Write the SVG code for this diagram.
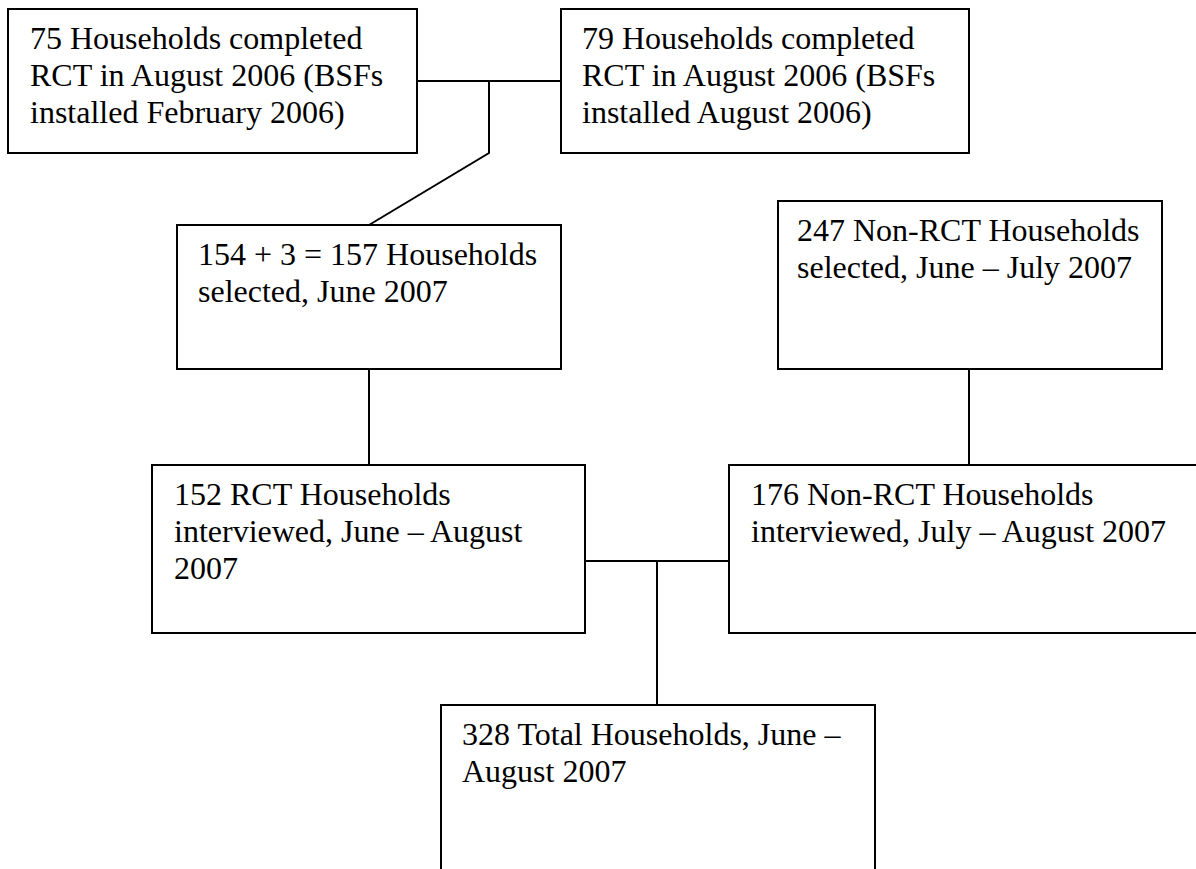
<svg xmlns="http://www.w3.org/2000/svg" width="1196" height="869" viewBox="0 0 1196 869">
<style>
.box{fill:#fff;stroke:#000;stroke-width:2}
.t{font-family:"Liberation Serif","Times New Roman",serif;font-size:32px;fill:#000}
.c{fill:none;stroke:#000;stroke-width:2}
</style>
<rect width="1196" height="869" fill="#fff"/>
<g id="connectors">
<polyline class="c" points="417,81 561,81"/>
<polyline class="c" points="489,81 489,153 369,225"/>
<line class="c" x1="369" y1="369" x2="369" y2="465"/>
<line class="c" x1="969" y1="369" x2="969" y2="465"/>
<line class="c" x1="585" y1="561" x2="729" y2="561"/>
<line class="c" x1="657" y1="561" x2="657" y2="705"/>
</g>
<g id="n1">
<rect class="box" x="8" y="9" width="409" height="144"/>
<text class="t" x="30" y="49">75 Households completed</text>
<text class="t" x="30" y="86">RCT in August 2006 (BSFs</text>
<text class="t" x="30" y="123">installed February 2006)</text>
</g>
<g id="n2">
<rect class="box" x="561" y="9" width="408" height="144"/>
<text class="t" x="582" y="49">79 Households completed</text>
<text class="t" x="582" y="86">RCT in August 2006 (BSFs</text>
<text class="t" x="582" y="123">installed August 2006)</text>
</g>
<g id="n3">
<rect class="box" x="177" y="225" width="384" height="144"/>
<text class="t" x="198" y="265">154 + 3 = 157 Households</text>
<text class="t" x="198" y="302">selected, June 2007</text>
</g>
<g id="n4">
<rect class="box" x="778" y="201" width="384" height="168"/>
<text class="t" x="797" y="241">247 Non-RCT Households</text>
<text class="t" x="797" y="278">selected, June – July 2007</text>
</g>
<g id="n5">
<rect class="box" x="152" y="465" width="433" height="168"/>
<text class="t" x="174" y="505">152 RCT Households</text>
<text class="t" x="174" y="542">interviewed, June – August</text>
<text class="t" x="174" y="579">2007</text>
</g>
<g id="n6">
<rect class="box" x="729" y="465" width="480" height="168"/>
<text class="t" x="751" y="505">176 Non-RCT Households</text>
<text class="t" x="751" y="542">interviewed, July – August 2007</text>
</g>
<g id="n7">
<rect class="box" x="441" y="705" width="434" height="180"/>
<text class="t" x="462" y="745">328 Total Households, June –</text>
<text class="t" x="462" y="782">August 2007</text>
</g>
</svg>
